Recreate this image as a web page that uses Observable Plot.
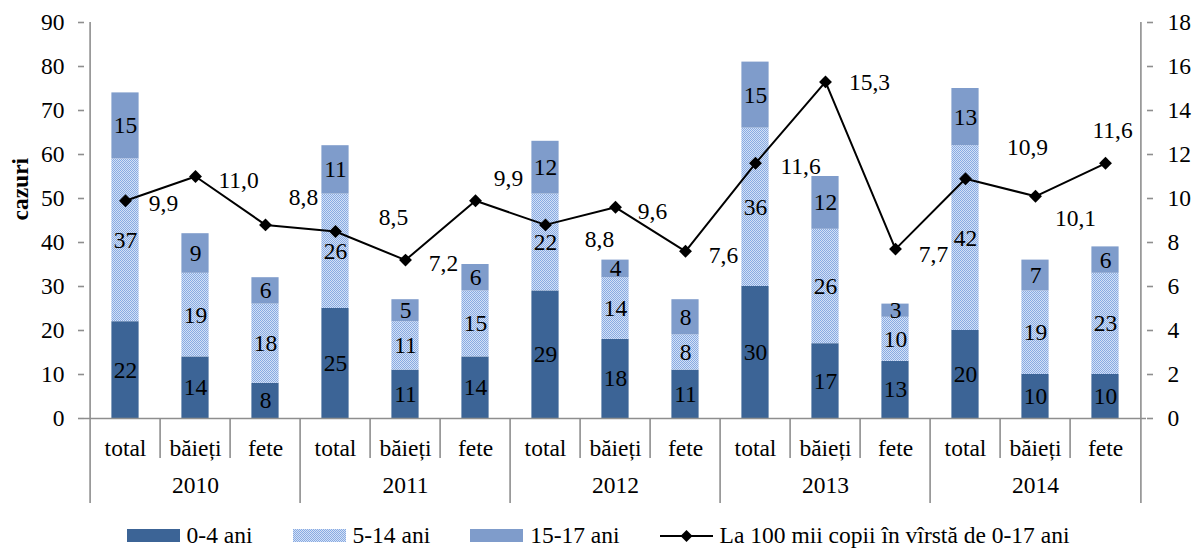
<!DOCTYPE html>
<html><head><meta charset="utf-8">
<script src="https://cdn.jsdelivr.net/npm/d3@7"></script>
<script src="https://cdn.jsdelivr.net/npm/@observablehq/plot@0.6"></script>
<style>
html,body{margin:0;padding:0;background:#fff;overflow:hidden;}
body{font-family:"Liberation Serif","Times New Roman",serif;color:#000;}
#legend{display:flex;justify-content:center;align-items:center;height:31px;font-size:23.5px;gap:40px;padding-left:0;}
#legend .item{display:flex;align-items:center;gap:7px;white-space:nowrap;}
#legend svg{display:block;}
</style></head><body>
<svg width="0" height="0" style="position:absolute"><defs>
<pattern id="chk" width="2" height="2" patternUnits="userSpaceOnUse">
<rect width="2" height="2" fill="#d3e0f6"/><rect width="1" height="1" fill="#88abe2"/><rect x="1" y="1" width="1" height="1" fill="#88abe2"/>
</pattern></defs></svg>
<div id="chart"></div>
<div id="legend"></div>
<script>
// ---- data ----
const years = ["2010", "2011", "2012", "2013", "2014"];
const groups = ["total", "băieți", "fete"];
const series = ["0-4 ani", "5-14 ani", "15-17 ani"];
const lineName = "La 100 mii copii în vîrstă de 0-17 ani";
const age0_4   = [22, 14, 8, 25, 11, 14, 29, 18, 11, 30, 17, 13, 20, 10, 10];
const age5_14  = [37, 19, 18, 26, 11, 15, 22, 14, 8, 36, 26, 10, 42, 19, 23];
const age15_17 = [15, 9, 6, 11, 5, 6, 12, 4, 8, 15, 12, 3, 13, 7, 6];
const rate = [9.9, 11.0, 8.8, 8.5, 7.2, 9.9, 8.8, 9.6, 7.6, 11.6, 15.3, 7.7, 10.9, 10.1, 11.6];
const leftTicks = [0, 10, 20, 30, 40, 50, 60, 70, 80, 90];
const rightTicks = [0, 2, 4, 6, 8, 10, 12, 14, 16, 18];

// ---- layout / style ----
const W = 1196, H = 520, mt = 22, mb = 102, ml = 84, mr = 50;
const colors = ["#3c6496", "url(#chk)", "#7f9ccb"];
const gray = "#8e8e8e";
const fs = 23.5;
const rateLabelNudge = [[38,3],[43,4],[38,-27],[58,-14],[38,3],[33,-22],[54,15],[37,4],[38,4],[45,3],[44,1],[38,5],[62,-31],[40,22],[7,-33]];

const yMax = leftTicks[leftTicks.length - 1];
const ratio = yMax / rightTicks[rightTicks.length - 1];
const plotH = H - mt - mb;
const unit = yMax / plotH; // data units per px
const step = (W - ml - mr) / (years.length * groups.length);
const barW = 28;
const inset = (step - barW) / 2;
const catDepth = 40 * unit, yearDepth = 85 * unit;

const keys = years.flatMap(y => groups.map(g => `${y}|${g}`));
const rows = [];
const segs = [age0_4, age5_14, age15_17];
keys.forEach((k, i) => segs.forEach((arr, s) => rows.push({key: k, series: series[s], value: arr[i]})));
const pts = keys.map((k, i) => ({key: k, rate: rate[i]}));
const fmt = v => d3.format(".1f")(v).replace(".", ",");

const outerLines = [{k: keys[0], dx: -step / 2}, {k: keys[keys.length - 1], dx: step / 2}];
const yearSeps = years.slice(1).map(y => `${y}|${groups[0]}`);
const innerSeps = years.flatMap(y => groups.slice(1).map(g => `${y}|${g}`));

const chart = Plot.plot({
  width: W, height: H,
  marginTop: mt, marginBottom: mb, marginLeft: ml, marginRight: mr,
  x: {type: "band", domain: keys, padding: 0},
  y: {domain: [0, yMax]},
  color: {domain: series, range: colors},
  style: {fontFamily: "Liberation Serif, Times New Roman, serif", fontSize: fs + "px", color: "#000", background: "#fff", overflow: "visible"},
  marks: [
    Plot.barY(rows, {x: "key", y: "value", fill: "series", insetLeft: inset, insetRight: inset}),
    Plot.text(rows, Plot.stackY({x: "key", y: "value", text: d => d.value, fill: "#000", fontSize: fs})),
    Plot.ruleY([0], {stroke: gray, strokeWidth: 1.6}),
    ...outerLines.map(o => Plot.ruleX([o.k], {x: d => d, y1: yMax, y2: -yearDepth, dx: o.dx, stroke: gray, strokeWidth: 1.6})),
    Plot.ruleX(yearSeps, {x: d => d, y1: 0, y2: -yearDepth, dx: -step / 2, stroke: gray, strokeWidth: 1.6}),
    Plot.ruleX(innerSeps, {x: d => d, y1: 0, y2: -catDepth, dx: -step / 2, stroke: gray, strokeWidth: 1.6}),
    Plot.line(pts, {x: "key", y: d => d.rate * ratio, stroke: "#000", strokeWidth: 2}),
    Plot.dot(pts, {x: "key", y: d => d.rate * ratio, symbol: "diamond2", r: 5.8, fill: "#000", stroke: "none"}),
    ...pts.map((p, i) => Plot.text([p], {x: "key", y: d => d.rate * ratio, text: d => fmt(d.rate), dx: rateLabelNudge[i][0], dy: rateLabelNudge[i][1], fill: "#000", fontSize: fs})),
    Plot.axisY({anchor: "left", ticks: leftTicks, tickSize: 6, tickPadding: 14, stroke: gray, strokeWidth: 1.6, fill: "#000", fontSize: fs, label: null}),
    Plot.axisY({anchor: "right", ticks: rightTicks.map(v => v * ratio), tickFormat: d => String(Math.round(d / ratio)), tickSize: 6, tickPadding: 15, stroke: gray, strokeWidth: 1.6, fill: "#000", fontSize: fs, label: null}),
    Plot.axisX({tickSize: 0, tickPadding: 21, tickFormat: k => k.split("|")[1], fill: "#000", fontSize: fs, label: null}),
    Plot.text(years, {x: y => `${y}|${groups[1]}`, frameAnchor: "bottom", dy: 74, text: d => d, fill: "#000", fontSize: fs}),
    Plot.text(["cazuri"], {frameAnchor: "left", rotate: -90, dx: -64, fontWeight: "bold", fill: "#000", fontSize: fs})
  ]
});
document.getElementById("chart").appendChild(chart);

// ---- legend ----
const legend = document.getElementById("legend");
series.forEach((s, i) => {
  const it = document.createElement("div");
  it.className = "item";
  it.innerHTML = `<svg width="53" height="13"><rect width="53" height="13" fill="${colors[i]}"/></svg><span>${s}</span>`;
  legend.appendChild(it);
});
const li = document.createElement("div");
li.className = "item";
li.innerHTML = `<svg width="53" height="14"><line x1="0" x2="53" y1="7" y2="7" stroke="#000" stroke-width="2"/><path d="M26.5,1 L32.5,7 L26.5,13 L20.5,7 Z" fill="#000"/></svg><span>${lineName}</span>`;
legend.appendChild(li);
</script>
</body></html>
